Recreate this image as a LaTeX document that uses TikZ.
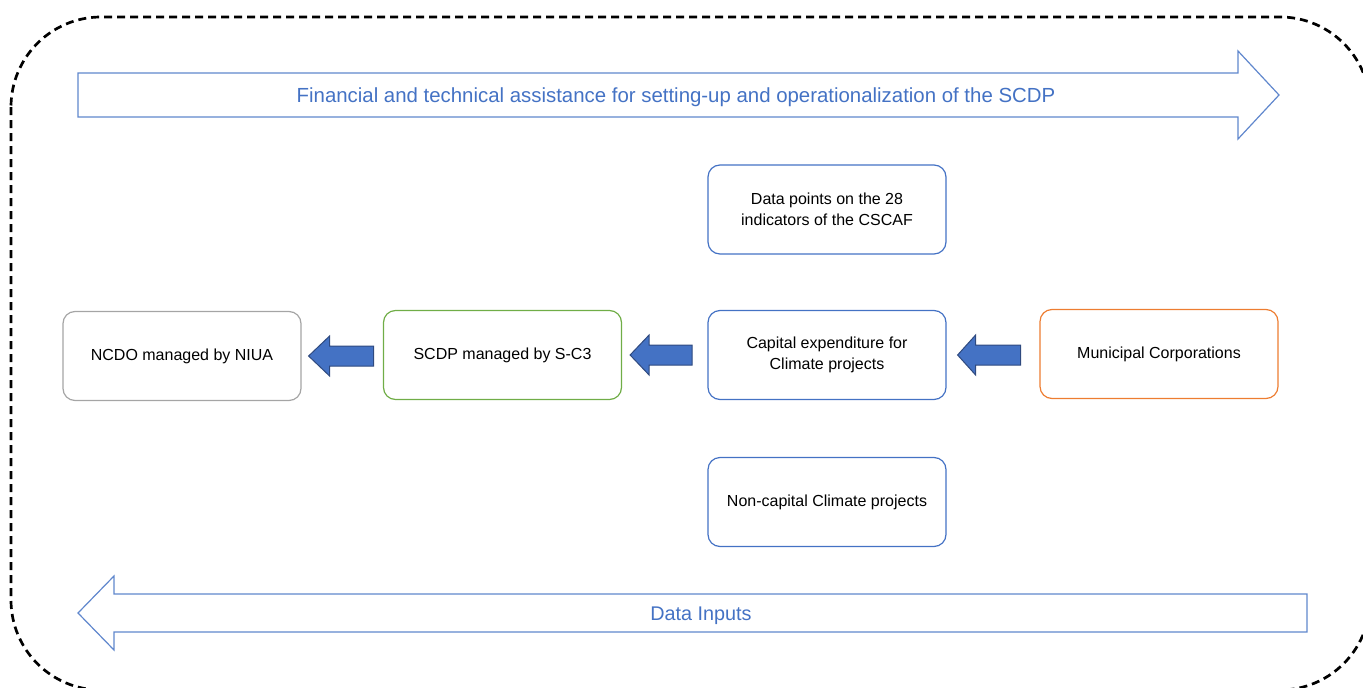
\documentclass[tikz,border=0pt]{standalone}
\usepackage{fontspec}
\setmainfont{Liberation Sans}
\usetikzlibrary{calc}
\definecolor{oblue}{HTML}{4472C4}
\definecolor{ogreen}{HTML}{70AD47}
\definecolor{oorange}{HTML}{ED7D31}
\definecolor{ogray}{HTML}{A5A5A5}
\definecolor{onavy}{HTML}{2F4A7F}
\tikzset{
  box/.style={draw=oblue, line width=1.2pt, rounded corners=12pt, minimum width=238pt, minimum height=89pt, align=center, font=\fontsize{16}{20.5}\selectfont, text=black},
  blk/.style={fill=oblue, draw=onavy, line width=1pt, line join=miter},
  bigarrow/.style={draw=oblue!85, line width=1.2pt, line join=miter},
  bigtext/.style={text=oblue}
}
\begin{document}
\begin{tikzpicture}[x=1pt,y=-1pt]
\useasboundingbox (0,0) rectangle (1363,688);
\begin{scope}
\clip (0,0) rectangle (1363,688);
\draw[line width=2.7pt, dash pattern=on 8pt off 5pt, rounded corners=90pt] (11,17) rectangle (1370,690);
\end{scope}
% top arrow
\draw[bigarrow] (78,73) -- (1238,73) -- (1238,51) -- (1279,95) -- (1238,139) -- (1238,117) -- (78,117) -- cycle;
\node[bigtext, font=\fontsize{20.4}{24}\selectfont] (top) at (676,97.5) {Financial and technical assistance for setting-up and operationalization of the SCDP};
% bottom arrow
\draw[bigarrow] (78,613) -- (114,576) -- (114,594) -- (1307,594) -- (1307,632) -- (114,632) -- (114,650) -- cycle;
\node[bigtext, font=\fontsize{19.8}{24}\selectfont] (bot) at (701,616) {Data Inputs};
% boxes
\node[box, draw=ogray] (ncdo) at (182,356) {NCDO managed by NIUA};
\node[box, draw=ogreen] (scdp) at (502.5,355) {SCDP managed by S-C3};
\node[box] (capex) at (827,355) {Capital expenditure for\\Climate projects};
\node[box, draw=oorange] (mc) at (1159,354) {Municipal Corporations};
\node[box] (data) at (827,209.5) {Data points on the 28\\indicators of the CSCAF};
\node[box] (noncap) at (827,502) {Non-capital Climate projects};
% block arrows
\draw[blk] ($(ncdo.east)+(7,0)$) -- ++(21,-20) -- ++(0,10) -- ++(44,0) -- ++(0,20) -- ++(-44,0) -- ++(0,10) -- cycle;
\draw[blk] ($(scdp.east)+(8,0)$) -- ++(19,-20) -- ++(0,10) -- ++(43,0) -- ++(0,20) -- ++(-43,0) -- ++(0,10) -- cycle;
\draw[blk] ($(capex.east)+(11,0)$) -- ++(18,-20) -- ++(0,10) -- ++(45,0) -- ++(0,20) -- ++(-45,0) -- ++(0,10) -- cycle;
\end{tikzpicture}
\end{document}
